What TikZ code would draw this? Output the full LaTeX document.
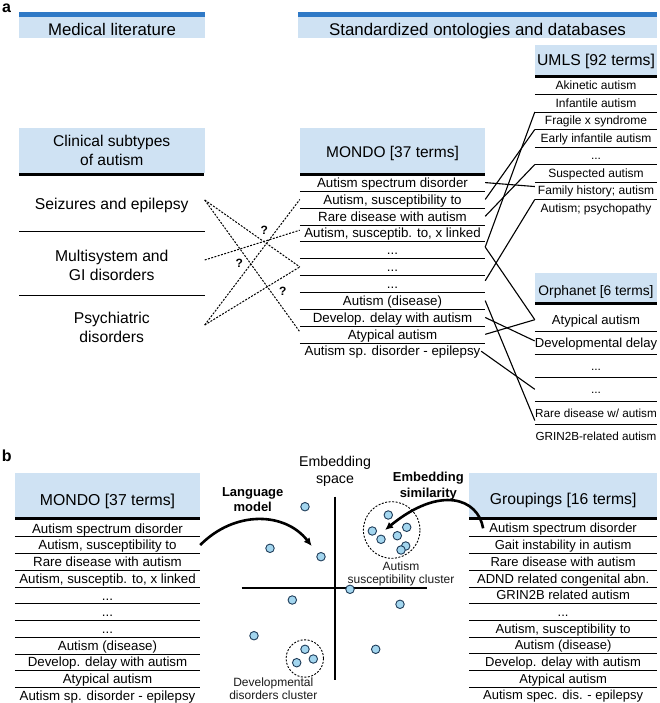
\documentclass[tikz,border=0pt]{standalone}
\usepackage{fontspec}
\setmainfont{Liberation Sans}
\usetikzlibrary{arrows.meta}
\definecolor{barblue}{HTML}{2F79C6}
\definecolor{boxblue}{HTML}{CFE2F3}
\definecolor{dotfill}{HTML}{A3D6EF}
\definecolor{dotline}{HTML}{1D3A57}
\definecolor{labgray}{HTML}{1A1A1A}
\newcommand{\myfs}[1]{\fontsize{#1}{#1}\selectfont}
\begin{document}
\begin{tikzpicture}[x=1pt,y=-1pt,
  hdr/.style={fill=boxblue, inner sep=0pt, text height=#1, text depth=0pt},
  rowA/.style={inner sep=0pt, minimum width=185pt, minimum height=16.86pt, text height=9.5pt, text depth=0pt, font=\myfs{13.3}},
  rowU/.style={inner sep=0pt, minimum width=122pt, minimum height=17.5pt, text height=8.6pt, text depth=0pt, font=\myfs{12}},
  rowO/.style={inner sep=0pt, minimum width=122pt, minimum height=23.2pt, text height=9.3pt, text depth=0pt, font=\myfs{#1}},
  rowB/.style={inner sep=0pt, minimum width=185pt, minimum height=16.74pt, text height=9.5pt, text depth=0pt, font=\myfs{13.3}},
  rowG/.style={inner sep=0pt, minimum width=187.7pt, minimum height=16.7pt, text height=9.3pt, text depth=0pt, font=\myfs{13}},
  rowL/.style={inner sep=0pt, minimum width=185.5pt, minimum height=20pt, align=center, font=\fontsize{15.7}{19}\selectfont},
  sepline/.style={line width=0.9pt},
  thickline/.style={line width=2.8pt},
  conn/.style={line width=1.1pt},
  dsh/.style={line width=1pt, dash pattern=on 2pt off 1.4pt},
  qm/.style={font=\bfseries\myfs{12}, inner sep=0pt},
  bigarrow/.style={line width=2.6pt, -{Latex[length=8pt,width=7.5pt]}},
  axisline/.style={line width=2pt},
  dot/.style={circle, draw=dotline, fill=dotfill, line width=0.9pt, minimum size=8.5pt, inner sep=0pt},
  clus/.style={circle, draw=black, line width=0.9pt, dash pattern=on 2pt off 1.5pt, inner sep=0pt},
  clab/.style={align=center, inner sep=0pt, text=labgray, font=\fontsize{12}{13.4}\selectfont},
  plab/.style={font=\bfseries\myfs{16}, inner sep=0pt, anchor=base west}
]
\useasboundingbox (0,0) rectangle (659,703);

% ---------------- panel a ----------------
\node[plab] (pa) at (2,12.5) {a};

\fill[barblue] (19,12.3) rectangle (205,16.7);
\node[hdr=15.4pt, minimum width=186pt, minimum height=21.6pt, font=\myfs{16.8}] (medlit) at (112,27.5) {Medical literature};
\fill[barblue] (298,12.3) rectangle (657,16.7);
\node[hdr=15.5pt, minimum width=359pt, minimum height=21.6pt, font=\myfs{16.9}] (stdont) at (477.5,27.5) {Standardized ontologies and databases};

% Clinical subtypes
\node[fill=boxblue, inner sep=0pt, minimum width=185.5pt, minimum height=44.7pt, align=center, font=\fontsize{15.6}{18.3}\selectfont] (clin) at (111.75,150.35) {Clinical subtypes\\of autism};
\draw[thickline] (clin.south west) ++(0,1.4) -- ++(185.5,0);
\node[rowL] (cs1) at (111.75,205) {Seizures and epilepsy};
\node[rowL] (cs2) at (111.75,265.5) {Multisystem and\\GI disorders};
\node[rowL] (cs3) at (111.75,327.5) {Psychiatric\\disorders};
\draw[sepline] (19,231.7) -- (204.5,231.7);
\draw[sepline] (19,295) -- (204.5,295);

% MONDO (a)
\node[hdr=14.1pt, minimum width=185pt, minimum height=45pt, font=\myfs{15.5}] (mondoA) at (392.5,150.5) {MONDO [37 terms]};
\draw[thickline] (300,174.4) -- (485,174.4);
\node[rowA] (m1) at (392.5,182.6) {Autism spectrum disorder};
\node[rowA] (m2) at (392.5,199.46) {Autism, susceptibility to};
\node[rowA] (m3) at (392.5,216.32) {Rare disease with autism};
\node[rowA] (m4) at (392.5,233.18) {Autism, susceptib. to, x linked};
\node[rowA] (m5) at (392.5,250.04) {...};
\node[rowA] (m6) at (392.5,266.9) {...};
\node[rowA] (m7) at (392.5,283.76) {...};
\node[rowA] (m8) at (392.5,300.62) {Autism (disease)};
\node[rowA] (m9) at (392.5,317.48) {Develop. delay with autism};
\node[rowA] (m10) at (392.5,334.34) {Atypical autism};
\node[rowA] (m11) at (392.5,351.2) {Autism sp. disorder - epilepsy};
\foreach \i in {1,...,10} \draw[sepline] (m\i.south west) -- (m\i.south east);

% UMLS
\node[hdr=11.3pt, minimum width=122pt, minimum height=30pt, font=\myfs{15.7}] (umls) at (596,60) {UMLS [92 terms]};
\draw[thickline] (535,76.4) -- (657,76.4);
\node[rowU] (u1) at (596,85.55) {Akinetic autism};
\node[rowU] (u2) at (596,103.05) {Infantile autism};
\node[rowU] (u3) at (596,120.55) {Fragile x syndrome};
\node[rowU] (u4) at (596,138.05) {Early infantile autism};
\node[rowU] (u5) at (596,155.55) {...};
\node[rowU] (u6) at (596,173.05) {Suspected autism};
\node[rowU] (u7) at (596,190.55) {Family history; autism};
\node[rowU] (u8) at (596,208.05) {Autism; psychopathy};
\foreach \i in {1,...,7} \draw[sepline] (u\i.south west) -- (u\i.south east);

% Orphanet
\node[hdr=16.9pt, minimum width=122pt, minimum height=29pt, font=\myfs{13.8}] (orph) at (596,287.2) {Orphanet [6 terms]};
\draw[thickline] (535,303.1) -- (657,303.1);
\node[rowO=13.1] (o1) at (596,319.7) {Atypical autism};
\node[rowO=13.1] (o2) at (596,342.9) {Developmental delay};
\node[rowO=12] (o3) at (596,366.1) {...};
\node[rowO=12] (o4) at (596,389.3) {...};
\node[rowO=11.7] (o5) at (596,412.5) {Rare disease w/ autism};
\node[rowO=11.7] (o6) at (596,435.7) {GRIN2B-related autism};
\foreach \i in {1,...,5} \draw[sepline] (o\i.south west) -- (o\i.south east);

% solid connectors
\draw[conn] (m1.east) -- ([yshift=4pt]u7.west);
\draw[conn] (m2.east) -- (u3.south west);
\draw[conn] (m3.east) -- (u5.south west);
\draw[conn] ([yshift=3pt]m5.east) -- (u2.south west);
\draw[conn] ([yshift=3pt]m5.east) -- (o1.west);
\draw[conn] ([yshift=3pt]m7.east) -- (u7.south west);
\draw[conn] (m8.east) -- ([yshift=-8pt]o5.west);
\draw[conn] (m9.east) -- ([yshift=2pt]o2.west);
\draw[conn] (m10.east) -- (o1.west);
\draw[conn] ([xshift=-4pt]m11.east) -- (o4.west);

% dashed connectors
\draw[dsh] ([yshift=5pt]cs1.east) -- (m6.west);
\draw[dsh] ([yshift=5pt]cs1.east) -- ([yshift=2.5pt]m10.west);
\draw[dsh] ([yshift=5.5pt]cs2.east) -- ([yshift=3pt]m4.west);
\draw[dsh] ([yshift=2.5pt]cs3.east) -- (m2.west);
\draw[dsh] ([yshift=2.5pt]cs3.east) -- (m6.west);
\node[qm] (q1) at (264.3,230) {?};
\node[qm] (q2) at (239.3,263.3) {?};
\node[qm] (q3) at (282.7,291.7) {?};

% ---------------- panel b ----------------
\node[plab] (pb) at (1.7,461.7) {b};

% MONDO (b)
\node[hdr=21.3pt, minimum width=185pt, minimum height=43.7pt, font=\myfs{15.8}] (mondoB) at (107.5,495.2) {MONDO [37 terms]};
\draw[thickline] (15,518.5) -- (200,518.5);
\node[rowB] (mb1) at (107.5,528.3) {Autism spectrum disorder};
\node[rowB] (mb2) at (107.5,545.04) {Autism, susceptibility to};
\node[rowB] (mb3) at (107.5,561.78) {Rare disease with autism};
\node[rowB] (mb4) at (107.5,578.52) {Autism, susceptib. to, x linked};
\node[rowB] (mb5) at (107.5,595.26) {...};
\node[rowB] (mb6) at (107.5,612.0) {...};
\node[rowB] (mb7) at (107.5,628.74) {...};
\node[rowB] (mb8) at (107.5,645.48) {Autism (disease)};
\node[rowB] (mb9) at (107.5,662.22) {Develop. delay with autism};
\node[rowB] (mb10) at (107.5,678.96) {Atypical autism};
\node[rowB] (mb11) at (107.5,695.7) {Autism sp. disorder - epilepsy};
\foreach \i in {1,...,10} \draw[sepline] (mb\i.south west) -- (mb\i.south east);

% Groupings
\node[hdr=19.2pt, minimum width=187.7pt, minimum height=43.7pt, font=\myfs{15.7}] (grp) at (563.15,495.2) {Groupings [16 terms]};
\draw[thickline] (469.3,518.5) -- (657,518.5);
\node[rowG] (g1) at (563.15,528.3) {Autism spectrum disorder};
\node[rowG] (g2) at (563.15,545.0) {Gait instability in autism};
\node[rowG] (g3) at (563.15,561.7) {Rare disease with autism};
\node[rowG] (g4) at (563.15,578.4) {ADND related congenital abn.};
\node[rowG] (g5) at (563.15,595.1) {GRIN2B related autism};
\node[rowG] (g6) at (563.15,611.8) {...};
\node[rowG] (g7) at (563.15,628.5) {Autism, susceptibility to};
\node[rowG] (g8) at (563.15,645.2) {Autism (disease)};
\node[rowG] (g9) at (563.15,661.9) {Develop. delay with autism};
\node[rowG] (g10) at (563.15,678.6) {Atypical autism};
\node[rowG] (g11) at (563.15,695.3) {Autism spec. dis. - epilepsy};
\foreach \i in {1,...,10} \draw[sepline] (g\i.south west) -- (g\i.south east);

% embedding space
\node[align=center, inner sep=0pt, font=\fontsize{14.2}{16.7}\selectfont] (esp) at (335,471.5) {Embedding\\space};
\coordinate (vt) at (335,496.7);
\coordinate (vb) at (335,680);
\coordinate (hl) at (241.7,588.3);
\coordinate (hr) at (426.7,588.3);
\draw[axisline] (vt) -- (vb);
\draw[axisline] (hl) -- (hr);

\node[clus, minimum size=56.6pt] (c1) at (391.7,530) {};
\node[clus, minimum size=37.4pt] (c2) at (304.8,658.5) {};

\node[dot] (d1) at (305,506.7) {};
\node[dot] (d2) at (270,548.3) {};
\node[dot] (d3) at (321,556.7) {};
\node[dot] (d4) at (388.3,515) {};
\node[dot] (d5) at (372.3,531) {};
\node[dot] (d6) at (381,539.3) {};
\node[dot] (d7) at (397.3,535.7) {};
\node[dot] (d8) at (406.7,527.3) {};
\node[dot] (d9) at (405.7,546) {};
\node[dot] (d10) at (401,550) {};
\node[dot] (d11) at (350,589.3) {};
\node[dot] (d12) at (292.3,600) {};
\node[dot] (d13) at (400,604.3) {};
\node[dot] (d14) at (254,635.7) {};
\node[dot] (d15) at (375.7,649.3) {};
\node[dot] (d16) at (305,649.3) {};
\node[dot] (d17) at (313.3,659) {};
\node[dot] (d18) at (296.7,662.7) {};

\node[clab] (alab) at (401,574.1) {Autism\\susceptibility cluster};
\node[clab] (dlab) at (273.3,689) {Developmental\\disorders cluster};

% arrows
\node[align=center, inner sep=0pt, font=\bfseries\fontsize{13}{15}\selectfont] (lm) at (252.7,499.2) {Language\\model};
\coordinate (la) at (311.7,546);
\draw[bigarrow] (mb2.east) .. controls (235,510) and (285,512) .. (la);

\node[align=center, inner sep=0pt, font=\bfseries\fontsize{13}{15.5}\selectfont] (esim) at (428.3,486.3) {Embedding\\similarity};
\coordinate (es) at (385,530);
\draw[bigarrow] ([xshift=14pt]g1.west) .. controls (478,498) and (440,485) .. (es);

\end{tikzpicture}
\end{document}
